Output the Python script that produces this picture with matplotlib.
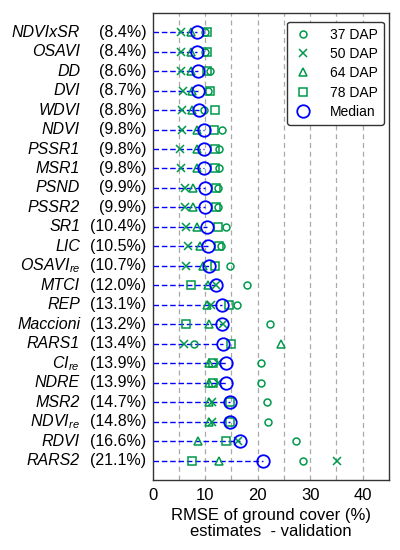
import numpy as np
import matplotlib.pyplot as plt

plt.rcParams['font.family'] = ['Liberation Sans', 'DejaVu Sans']
plt.rcParams['mathtext.fontset'] = 'custom'
plt.rcParams['mathtext.it'] = 'Liberation Sans:italic'
plt.rcParams['mathtext.rm'] = 'Liberation Sans'

# ------------------------------------------------------------
# data (RMSE of ground cover estimates, validation)
# ------------------------------------------------------------
indices = ['NDVIxSR', 'OSAVI', 'DD', 'DVI', 'WDVI', 'NDVI', 'PSSR1', 'MSR1',
           'PSND', 'PSSR2', 'SR1', 'LIC', 'OSAVI$_{re}$', 'MTCI', 'REP',
           'Maccioni', 'RARS1', 'CI$_{re}$', 'NDRE', 'MSR2', 'NDVI$_{re}$',
           'RDVI', 'RARS2']
median = [8.4, 8.4, 8.6, 8.7, 8.8, 9.8, 9.8, 9.8, 9.9, 9.9, 10.4, 10.5,
          10.7, 12.0, 13.1, 13.2, 13.4, 13.9, 13.9, 14.7, 14.8, 16.6, 21.1]
dap37 = [10.0, 9.9, 10.9, 10.5, 9.8, 13.1, 12.6, 12.6, 12.5, 12.5, 14.0, 13.0,
         14.7, 17.9, 16.0, 22.3, 7.9, 20.6, 20.6, 21.7, 21.9, 27.3, 28.6]
dap50 = [5.3, 5.3, 5.3, 5.7, 5.5, 5.5, 5.2, 5.3, 6.1, 6.1, 6.3, 6.8,
         6.3, 12.0, 11.1, 13.45, 6.0, 12.5, 12.5, 11.2, 11.2, 16.2, 35.2]
dap64 = [7.3, 7.3, 7.2, 7.4, 7.4, 8.4, 8.5, 8.5, 7.7, 7.7, 8.5, 9.0,
         9.6, 10.5, 10.3, 10.7, 24.4, 10.8, 10.8, 10.8, 10.8, 8.6, 12.6]
dap78 = [10.4, 10.3, 10.4, 11.0, 11.9, 11.7, 11.8, 11.9, 12.1, 12.1, 12.4, 12.6,
         11.9, 7.2, 14.6, 6.3, 15.0, 11.5, 11.5, 14.7, 14.8, 14.0, 7.5]

green = '#00994C'
blue = '#0000FF'

fig = plt.figure(figsize=(4, 5.5), dpi=100)
ax = fig.add_axes([0.382, 0.127, 0.59, 0.85])

n = len(indices)
y = np.arange(n, 0, -1)

for xv in range(5, 45, 5):
    ax.axvline(xv, color='#AAAAAA', linestyle=(0, (4, 3)), linewidth=0.9, zorder=0)

ax.hlines(y, 0, median, colors=blue, linestyles=(0, (4, 2)), linewidth=1.0, zorder=1)

ax.plot(dap37, y, 'o', mfc='none', mec=green, ms=5, mew=1.1, ls='none', label='37 DAP')
ax.plot(dap50, y, 'x', color=green, ms=5.5, mew=1.1, ls='none', label='50 DAP')
ax.plot(dap64, y, '^', mfc='none', mec=green, ms=6, mew=1.1, ls='none', label='64 DAP')
ax.plot(dap78, y, 's', mfc='none', mec=green, ms=6, mew=1.1, ls='none', label='78 DAP')
ax.plot(median, y, 'o', mfc='none', mec=blue, ms=9, mew=1.3, ls='none', label='Median')

ax.set_xlim(0, 45)
ax.set_ylim(0, n + 1)
ax.set_xticks([0, 10, 20, 30, 40])
ax.set_yticks([])
ax.tick_params(axis='x', labelsize=12, length=0, pad=6)
for s in ax.spines.values():
    s.set_linewidth(1.0)
    s.set_color('#333333')

for yi, name, m in zip(y, indices, median):
    ax.text(-0.308, yi, name, transform=ax.get_yaxis_transform(), ha='right',
            va='center', fontsize=11.5, style='italic')
    ax.text(-0.028, yi, f'({m:.1f}%)', transform=ax.get_yaxis_transform(),
            ha='right', va='center', fontsize=11.5)

ax.set_xlabel('RMSE of ground cover (%)\nestimates  - validation', fontsize=12,
              labelpad=3, linespacing=1.15)

leg = ax.legend(loc='upper right', fontsize=10, frameon=True, fancybox=True,
                borderpad=0.45, handlelength=1.4, handletextpad=1.2,
                labelspacing=0.38, borderaxespad=0,
                bbox_to_anchor=(0.979, 0.981))
leg.get_frame().set_edgecolor('#333333')
leg.get_frame().set_linewidth(1.0)
leg.get_frame().set_alpha(1)

plt.savefig('out.png', dpi=100)
